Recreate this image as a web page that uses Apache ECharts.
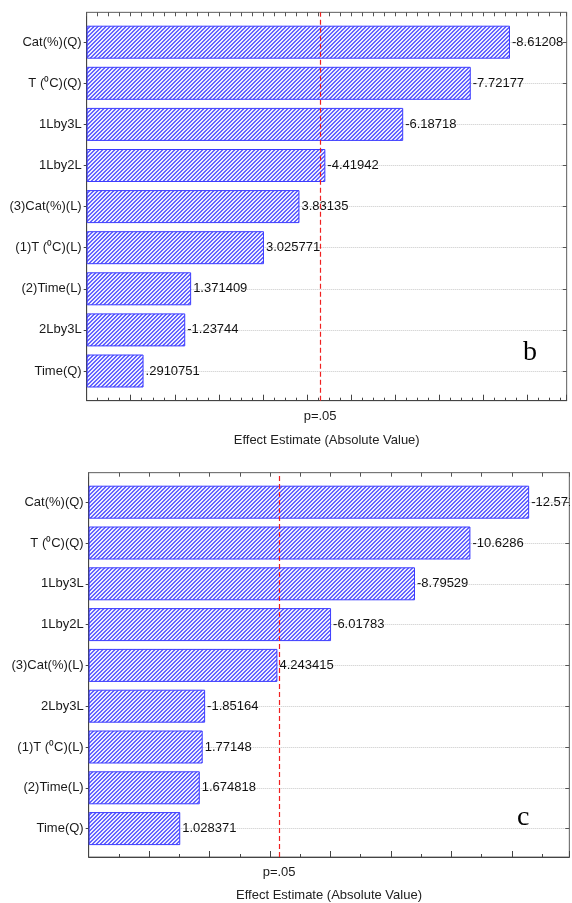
<!DOCTYPE html>
<html>
<head>
<meta charset="utf-8">
<script src="https://cdn.jsdelivr.net/npm/echarts@6/dist/echarts.min.js"></script>
<style>
  html, body { margin: 0; padding: 0; background: #fff; }
  #chart { width: 570px; height: 903px; }
</style>
</head>
<body>
<div id="chart"></div>
<script>
// panel b
const catsB = ['Cat(%)(Q)', 'T (⁰C)(Q)', '1Lby3L', '1Lby2L', '(3)Cat(%)(L)', '(1)T (⁰C)(L)', '(2)Time(L)', '2Lby3L', 'Time(Q)']
const effectsB = [-8.61208, -7.72177, -6.18718, -4.41942, 3.83135, 3.025771, 1.371409, -1.23744, 0.2910751]
const pLineB = 4.3

// panel c
const catsC = ['Cat(%)(Q)', 'T (⁰C)(Q)', '1Lby3L', '1Lby2L', '(3)Cat(%)(L)', '2Lby3L', '(1)T (⁰C)(L)', '(2)Time(L)', 'Time(Q)']
const effectsC = [-12.5714, -10.6286, -8.79529, -6.01783, 4.243415, -1.85164, 1.77148, 1.674818, 1.028371]
const pLineC = 4.3

const font = 'Liberation Sans'
const red = '#f02020'

// hatch fill for the bars
const hatch = document.createElement('canvas')
hatch.width = 4
hatch.height = 4
const hc = hatch.getContext('2d')
hc.fillStyle = '#ececff'
hc.fillRect(0, 0, 4, 4)
hc.fillStyle = '#6464ff'
for (let i = 0; i < 4; i++) {
  hc.fillRect(i, 3 - i, 1, 1)
  hc.fillRect(i, (4 - i) % 4, 1, 1)
}

const fmt = v => String(v).replace(/^(-?)0\./, '$1.')

// one panel = frame grid (box, x ticks, p line) + bar grid (categories)
function panel(idx, frame, bars, xMin, xMax, major, minorSplit, topStep, cats, effects, pLine) {
  const g = idx * 2
  const grids = [
    Object.assign({ show: true, borderColor: '#777', borderWidth: 1 }, frame),
    bars
  ]
  const xAxes = [
    {
      gridIndex: g, type: 'value', position: 'bottom', min: xMin, max: xMax, interval: major,
      axisLine: { onZero: false, lineStyle: { color: '#444', width: 1 } },
      axisTick: { inside: true, length: 6, lineStyle: { color: '#444' } },
      minorTick: { show: true, splitNumber: minorSplit, length: 3, lineStyle: { color: '#444' } },
      axisLabel: { show: false },
      splitLine: { show: false },
      name: 'Effect Estimate (Absolute Value)',
      nameLocation: 'middle',
      nameGap: idx === 0 ? 33 : 32,
      nameTextStyle: { fontFamily: font, fontSize: 13, color: '#222' }
    },
    {
      gridIndex: g, type: 'value', position: 'top', min: xMin, max: xMax, interval: topStep,
      axisLine: { onZero: false, lineStyle: { color: '#777' } },
      axisTick: { inside: true, length: 4, lineStyle: { color: '#555' } },
      axisLabel: { show: false },
      splitLine: { show: false }
    },
    // bars are drawn from the left edge of the frame, so this hidden axis starts at 0
    { gridIndex: g + 1, type: 'value', min: 0, max: xMax - xMin, show: false }
  ]
  const yAxes = [
    {
      gridIndex: g, type: 'value', position: 'left', min: 0, max: 1,
      axisLine: { show: true, onZero: false, lineStyle: { color: '#444' } },
      axisTick: { show: false }, axisLabel: { show: false }, splitLine: { show: false }
    },
    {
      gridIndex: g, type: 'value', position: 'right', min: 0, max: 1,
      axisLine: { show: true, onZero: false, lineStyle: { color: '#777' } },
      axisTick: { show: false }, axisLabel: { show: false }, splitLine: { show: false }
    },
    {
      gridIndex: g + 1, type: 'category', position: 'left', inverse: true, boundaryGap: false,
      data: cats,
      axisLine: { show: false, onZero: false },
      axisTick: { length: 3, lineStyle: { color: '#444' } },
      axisLabel: { margin: 5, fontFamily: font, fontSize: 13, color: '#1a1a1a' },
      splitLine: { show: true, lineStyle: { color: '#c8c8c8', type: 'dotted', width: 1 } }
    },
    {
      gridIndex: g + 1, type: 'category', position: 'right', inverse: true, boundaryGap: false,
      data: cats,
      axisLine: { show: false, onZero: false },
      axisTick: { inside: true, length: 4, lineStyle: { color: '#555' } },
      axisLabel: { show: false },
      splitLine: { show: false }
    }
  ]
  const xi = idx * 3
  const yi = idx * 4
  const series = [
    {
      type: 'bar',
      xAxisIndex: xi + 2,
      yAxisIndex: yi + 2,
      barWidth: 33,
      clip: false,
      data: effects.map(v => Math.abs(v) - xMin),
      itemStyle: {
        color: { image: hatch, repeat: 'repeat' },
        borderColor: '#3c3cff',
        borderWidth: 1
      },
      label: {
        show: true,
        position: 'right',
        distance: 2,
        fontFamily: font,
        fontSize: 13,
        color: '#111',
        formatter: p => fmt(effects[p.dataIndex])
      }
    },
    {
      type: 'line',
      xAxisIndex: xi,
      yAxisIndex: yi,
      data: [],
      z: 5,
      color: red,
      markLine: {
        silent: true,
        symbol: 'none',
        lineStyle: { color: red, type: [5, 3], width: 1.2, opacity: 1 },
        label: {
          position: 'start',
          distance: 9,
          formatter: 'p=.05',
          fontFamily: font,
          fontSize: 13,
          color: '#1a1a1a'
        },
        data: [{ xAxis: pLine, lineStyle: { color: red } }]
      }
    }
  ]
  return { grids, xAxes, yAxes, series }
}

const pb = panel(0,
  { left: 86.7, top: 12.3, width: 480, height: 388.4 },
  { left: 86.7, top: 42.2, width: 480, height: 328.8 },
  -1, 9.9, 1, 4, 0.25, catsB, effectsB, pLineB)

const pc = panel(1,
  { left: 88.7, top: 472.7, width: 480.6, height: 385.6 },
  { left: 88.7, top: 502.2, width: 480.6, height: 326.4 },
  -2, 13.9, 2, 2, 1, catsC, effectsC, pLineC)

const option = {
  animation: false,
  backgroundColor: '#fff',
  grid: pb.grids.concat(pc.grids),
  xAxis: pb.xAxes.concat(pc.xAxes),
  yAxis: pb.yAxes.concat(pc.yAxes),
  series: pb.series.concat(pc.series),
  graphic: [
    {
      type: 'text', left: 523, top: 339,
      style: { text: 'b', font: '28px "Liberation Serif"', fill: '#000' }
    },
    {
      type: 'text', left: 517, top: 804,
      style: { text: 'c', font: '28px "Liberation Serif"', fill: '#000' }
    }
  ]
}

const chart = echarts.init(document.getElementById('chart'))
chart.setOption(option)
</script>
</body>
</html>
